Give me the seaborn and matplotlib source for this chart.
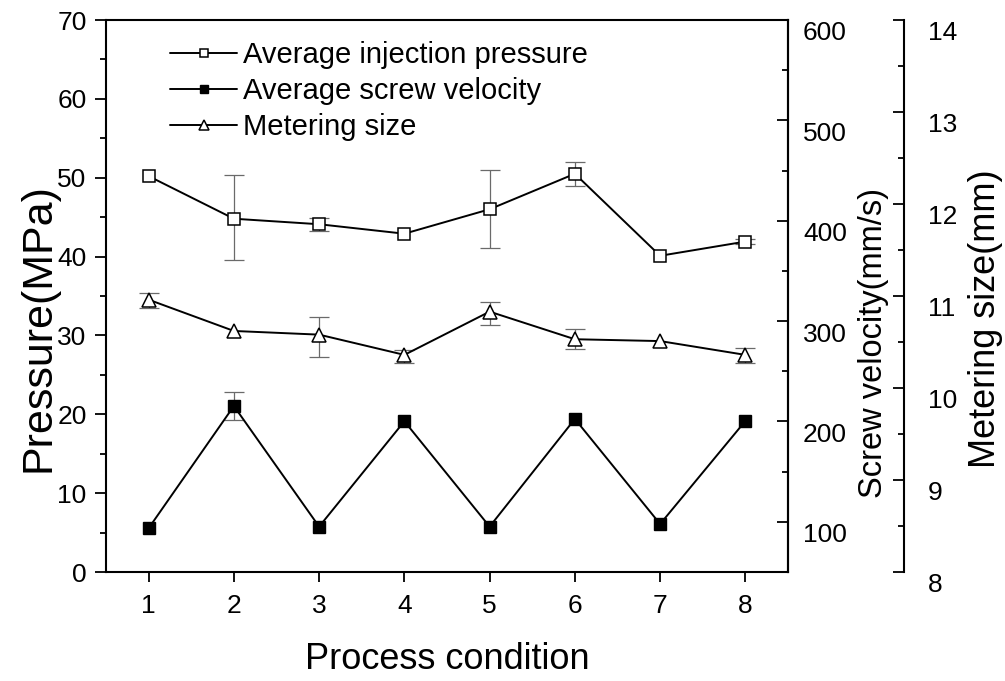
import numpy as np
import pandas as pd
import matplotlib
matplotlib.use("Agg")
import matplotlib.pyplot as plt
from matplotlib.ticker import MultipleLocator
from matplotlib.transforms import ScaledTranslation
import seaborn as sns

# ---- data -------------------------------------------------------------
conditions = [1, 2, 3, 4, 5, 6, 7, 8]

pressure = [50.2, 44.8, 44.1, 42.9, 46.0, 50.5, 40.1, 41.9]          # MPa
pressure_err_lo = [0.0, 5.2, 0.9, 0.0, 4.9, 1.6, 0.0, 0.3]
pressure_err_hi = [0.0, 5.5, 0.8, 0.0, 5.0, 1.5, 0.0, 0.3]

velocity = [93.6, 215.4, 95.2, 200.2, 95.2, 202.5, 97.8, 200.5]        # mm/s
velocity_err_lo = [0.0, 13.5, 0.0, 0.0, 0.0, 0.0, 0.0, 0.0]
velocity_err_hi = [0.0, 14.3, 0.0, 0.0, 0.0, 0.0, 0.0, 0.0]

metering = [10.96, 10.62, 10.58, 10.36, 10.83, 10.53, 10.51, 10.36]    # mm
metering_err_lo = [0.09, 0.0, 0.24, 0.09, 0.15, 0.11, 0.0, 0.09]
metering_err_hi = [0.07, 0.0, 0.19, 0.05, 0.11, 0.11, 0.0, 0.07]

series_labels = ["Average injection pressure", "Average screw velocity", "Metering size"]
pressure_ticks = [0, 10, 20, 30, 40, 50, 60, 70]
velocity_ticks = [100, 200, 300, 400, 500, 600]
metering_ticks = [8, 9, 10, 11, 12, 13, 14]

df = pd.DataFrame({
    "condition": conditions,
    "pressure": pressure,
    "velocity": velocity,
    "metering": metering,
})


def error_pairs(lo, hi):
    """Asymmetric error array; points without a measured spread get no bar."""
    lo = np.asarray(lo, float)
    hi = np.asarray(hi, float)
    none = (lo == 0) & (hi == 0)
    return np.where(none, np.nan, lo), np.where(none, np.nan, hi)


# ---- style ------------------------------------------------------------
sns.set_style("ticks")
plt.rcParams["font.family"] = ["Liberation Sans", "DejaVu Sans"]
plt.rcParams["axes.linewidth"] = 1.5
plt.rcParams["axes.edgecolor"] = "black"
plt.rcParams["text.color"] = "black"
plt.rcParams["axes.labelcolor"] = "black"
plt.rcParams["xtick.color"] = "black"
plt.rcParams["ytick.color"] = "black"

W, H = 1005, 681
fig = plt.figure(figsize=(W / 100, H / 100), dpi=100)
fig.patch.set_facecolor("white")
ax = fig.add_axes([106 / W, 109 / H, 682 / W, 552 / H])
ax2 = ax.twinx()
ax3 = ax.twinx()

err_kw = dict(fmt="none", ecolor="#6a6a6a", elinewidth=0.9, capsize=7, capthick=0.9, zorder=1)
line_kw = dict(color="black", lw=1.4, errorbar=None, legend=False, zorder=3)

# pressure (left axis)
lo, hi = error_pairs(pressure_err_lo, pressure_err_hi)
ax.errorbar(conditions, pressure, yerr=[lo, hi], **err_kw)
sns.lineplot(data=df, x="condition", y="pressure", ax=ax, marker="s", ms=8.4,
             mfc="white", mec="black", mew=1.1, **line_kw)
h_pressure = ax.lines[-1]

# screw velocity (first right axis)
lo, hi = error_pairs(velocity_err_lo, velocity_err_hi)
ax2.errorbar(conditions, velocity, yerr=[lo, hi], **err_kw)
sns.lineplot(data=df, x="condition", y="velocity", ax=ax2, marker="s", ms=8.2,
             mfc="black", mec="black", mew=1.0, **line_kw)
h_velocity = ax2.lines[-1]

# metering size (second right axis)
lo, hi = error_pairs(metering_err_lo, metering_err_hi)
ax3.errorbar(conditions, metering, yerr=[lo, hi], **err_kw)
sns.lineplot(data=df, x="condition", y="metering", ax=ax3, marker="^", ms=10,
             mfc="white", mec="black", mew=1.1, **line_kw)
h_metering = ax3.lines[-1]

# ---- axes -------------------------------------------------------------
ax.set_xlim(0.5, 8.5)
ax.set_xticks(conditions)
ax.set_ylim(0, 70)
ax.set_yticks(pressure_ticks)
ax.yaxis.set_minor_locator(MultipleLocator(5))
ax.set_xlabel("")
ax.set_ylabel("")
for s in ["top", "right", "left", "bottom"]:
    ax.spines[s].set_visible(True)
    ax.spines[s].set_linewidth(1.5)
ax.tick_params(axis="y", which="major", direction="out", length=8, width=1.3,
               labelsize=19, pad=6, right=False)
ax.tick_params(axis="y", which="minor", direction="out", length=4.3, width=1.3, right=False)
ax.tick_params(axis="x", which="major", direction="out", length=7.5, width=1.3,
               labelsize=19, pad=8, top=False)

ax2.set_ylim(50, 600)
ax2.set_yticks(velocity_ticks)
ax2.yaxis.set_minor_locator(MultipleLocator(50))
ax2.set_ylabel("")
for s in ["top", "left", "bottom"]:
    ax2.spines[s].set_visible(False)
ax2.spines["right"].set_linewidth(1.5)

ax3.spines["right"].set_position(("axes", (904 - 106) / 682))
ax3.set_ylim(8, 14)
ax3.set_yticks(metering_ticks)
ax3.yaxis.set_minor_locator(MultipleLocator(0.5))
ax3.set_ylabel("")
for s in ["top", "left", "bottom"]:
    ax3.spines[s].set_visible(False)
ax3.spines["right"].set_linewidth(1.5)

ax2.tick_params(axis="y", which="major", direction="in", length=8, width=1.3,
                labelsize=19, pad=10.8)
ax2.tick_params(axis="y", which="minor", direction="in", length=4.3, width=1.3)
ax3.tick_params(axis="y", which="major", direction="in", length=8, width=1.3,
                labelsize=19, pad=17)
ax3.tick_params(axis="y", which="minor", direction="in", length=4.3, width=1.3)

# right-hand tick labels sit a little below their ticks
for axis_obj, n, shift in [(ax2, len(velocity_ticks), 11), (ax3, len(metering_ticks), 10)]:
    off = ScaledTranslation(0, -shift / 100, fig.dpi_scale_trans)
    for t in axis_obj.yaxis.get_major_ticks(n):
        t.label2.set_transform(t.label2.get_transform() + off)

# ---- labels -----------------------------------------------------------
fig.text(50 / W, 1 - 328 / H, "Pressure(MPa)", rotation=90, rotation_mode="anchor",
         ha="center", va="baseline", fontsize=31)
fig.text(882 / W, 1 - 343 / H, "Screw velocity(mm/s)", rotation=90, rotation_mode="anchor",
         ha="center", va="baseline", fontsize=23.5)
fig.text(995 / W, 1 - 318.5 / H, "Metering size(mm)", rotation=90, rotation_mode="anchor",
         ha="center", va="baseline", fontsize=26)
fig.text(447 / W, 1 - 669 / H, "Process condition", ha="center", va="baseline", fontsize=26)

ax3.legend(handles=[h_pressure, h_velocity, h_metering], labels=series_labels,
           loc="upper left", bbox_to_anchor=((170 - 106) / 682, (572 - 41) / 552),
           frameon=False, fontsize=21, handlelength=2.3, handletextpad=0.2,
           labelspacing=0.27, borderpad=0, borderaxespad=0, markerscale=0.65)

fig.savefig("out.png", dpi=100, facecolor="white")
